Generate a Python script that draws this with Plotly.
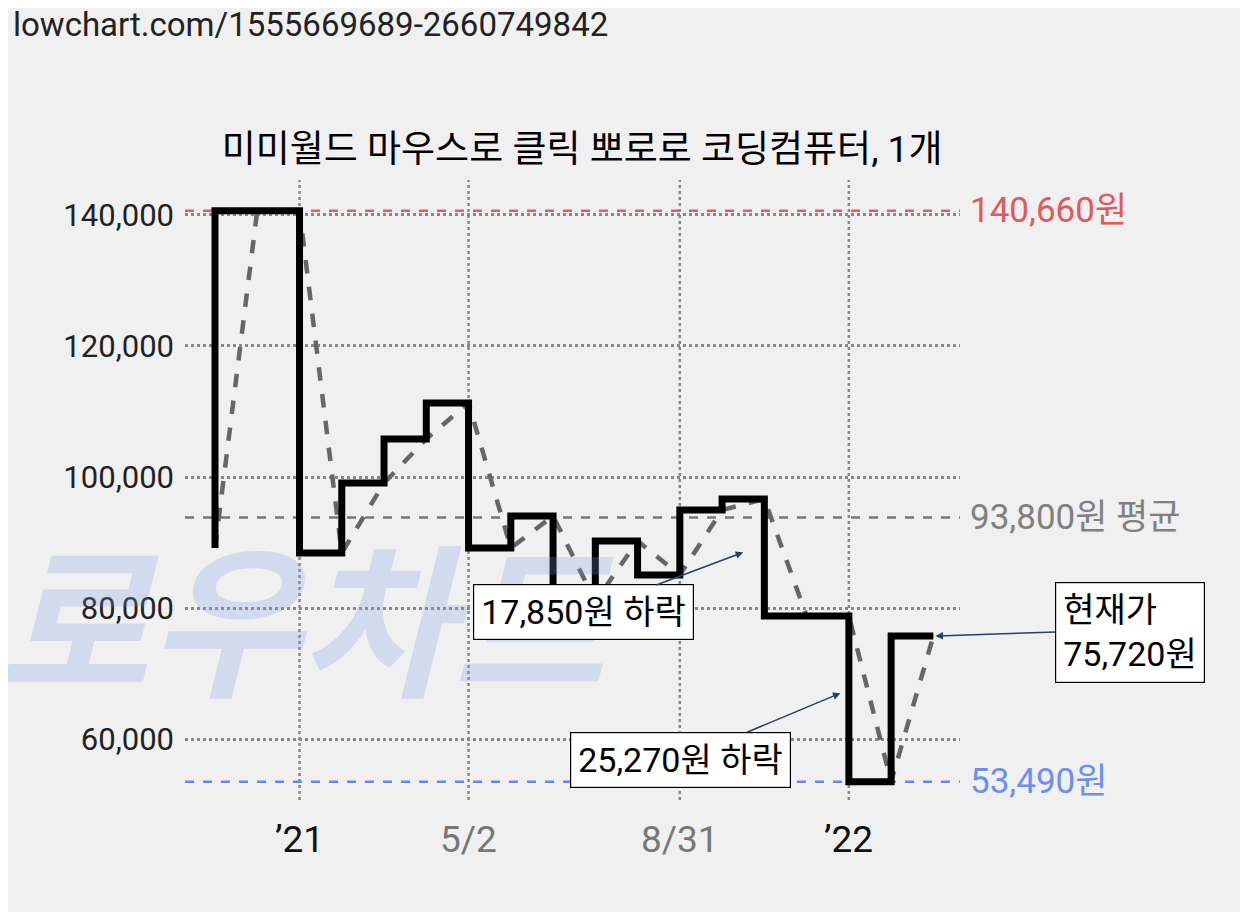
import plotly.graph_objects as go

idx = list(range(18))
prices = [89160,140660,140660,88400,99080,105800,111300,89160,94050,81000,90230,85040,94960,96640,78780,78780,53490,75720]
tick_pos = [2, 6, 11, 15]
tick_text = ["’21", "5/2", "8/31", "’22"]
tick_col = ["#111", "#777", "#777", "#111"]
y_ticks = [60000, 80000, 100000, 120000, 140000]
max_p, avg_p, min_p, cur_p = 140660, 93800, 53490, 75720

F = "Roboto, Noto Sans CJK KR, sans-serif"
fig = go.Figure()
fig.add_trace(go.Scatter(x=idx, y=prices, mode="lines", line=dict(color="#666", width=4.5, dash="dash")))
fig.add_trace(go.Scatter(x=idx, y=prices, mode="lines", line=dict(color="black", width=7, shape="vh")))

for v, c in [(max_p, "#e06060"), (avg_p, "#777"), (min_p, "#6688ee")]:
    fig.add_shape(type="line", xref="paper", x0=0, x1=1, y0=v, y1=v, line=dict(color=c, width=2.5, dash="dash"), layer="below")
for v, c, t in [(max_p, "#e05a5a", "140,660원"), (avg_p, "#808080", "93,800원 평균"), (min_p, "#6d8ff0", "53,490원")]:
    fig.add_annotation(xref="paper", x=1.01, y=v, text=t, showarrow=False, xanchor="left", font=dict(size=35, color=c, family=F))
for p, t, c in zip(tick_pos, tick_text, tick_col):
    fig.add_shape(type="line", x0=p, x1=p, yref="paper", y0=0, y1=1, line=dict(color="#888", width=2.5, dash="dot"), layer="below")
    fig.add_annotation(x=p, yref="paper", y=-0.025, text=t, showarrow=False, yanchor="top", font=dict(size=37, color=c, family=F))

fig.add_annotation(xref="paper", yref="paper", x=-0.245, y=0.12, text="<b><i>로우차트</i></b>", showarrow=False, xanchor="left",
                   font=dict(size=165, color="rgba(120,150,230,0.25)", family=F))

box = dict(showarrow=True, arrowhead=2, arrowsize=1, arrowwidth=1.5, bgcolor="white", bordercolor="black", borderwidth=1.2,
           borderpad=7, font=dict(size=34, color="black", family=F), axref="pixel", ayref="pixel")
fig.add_annotation(x=12.5, y=88500, text="17,850원 하락", ax=-160, ay=60, **box)
fig.add_annotation(x=14.8, y=67000, text="25,270원 하락", ax=-160, ay=67, **box)
fig.add_annotation(x=17.05, y=cur_p, text="현재가<br>75,720원", ax=120, ay=-4, align="left", xanchor="left", **box)

fig.update_layout(
    width=1248, height=912, paper_bgcolor="#f0f0f0", plot_bgcolor="#f0f0f0", showlegend=False,
    margin=dict(l=177, r=296, t=172, b=120),
    title=dict(text="미미월드 마우스로 클릭 뽀로로 코딩컴퓨터, 1개", x=0.46, xanchor="center", y=0.845, yanchor="middle",
               font=dict(size=37, color="black", family=F)),
    xaxis=dict(range=[-0.71, 17.63], showgrid=False, zeroline=False, showticklabels=False),
    yaxis=dict(range=[50690, 145340], tickvals=y_ticks, ticktext=[f"{v:,}" for v in y_ticks],
               showgrid=True, gridcolor="#888", griddash="dot", gridwidth=2.5, zeroline=False,
               tickfont=dict(size=31, color="#222", family=F), ticks="", ticklabelstandoff=10),
)
fig.add_annotation(xref="paper", yref="paper", x=-0.225, y=1.285, text="lowchart.com/1555669689-2660749842", showarrow=False,
                   xanchor="left", font=dict(size=33, color="#222", family=F))
fig.write_html("out.html")
